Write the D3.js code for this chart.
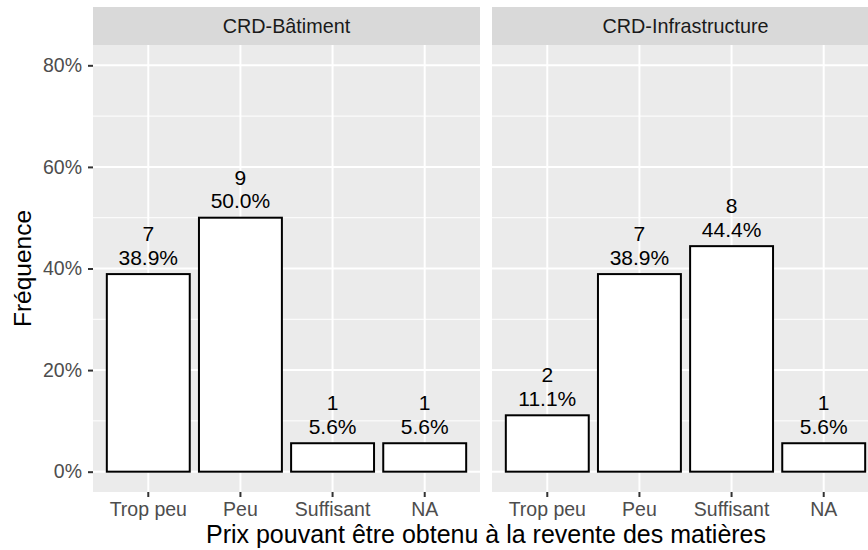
<!DOCTYPE html>
<html lang="fr">
<head>
    <meta charset="UTF-8">
    <title>Prix de revente</title>
    <style>
        body { margin: 0; background: #fff; }
        text { font-family: "Liberation Sans", Arial, sans-serif; }
    </style>
</head>
<body>
<div id="chart"></div>
<script src="https://cdn.jsdelivr.net/npm/d3@7"></script>
<script>
    const categories = ["Trop peu", "Peu", "Suffisant", "NA"];
    const panels = ["CRD-Bâtiment", "CRD-Infrastructure"];
    const counts = [
        [7, 9, 1, 1],
        [2, 7, 8, 1]
    ];
    const percents = [
        [0.389, 0.500, 0.056, 0.056],
        [0.111, 0.389, 0.444, 0.056]
    ];
    const yTicks = [0, 0.2, 0.4, 0.6, 0.8];
    const yMinor = [0.1, 0.3, 0.5, 0.7];

    const width = 868, height = 550;
    const panelW = 387, panelGap = 12;
    const panelLeft = [93, 93 + panelW + panelGap];
    const stripTop = 7, stripBottom = 45, panelBottom = 492;

    let svg = d3.select("#chart")
        .append("svg")
        .attr("width", width)
        .attr("height", height)
        .style("background-color", "#fff");

    let y = d3.scaleLinear()
        .domain([-0.04, 0.84])
        .range([panelBottom, stripBottom]);

    panels.forEach((name, p) => {
        let x = d3.scaleBand()
            .domain(categories)
            .range([panelLeft[p], panelLeft[p] + panelW])
            .paddingInner(0.1)
            .paddingOuter(0.15);
        const xc = c => x(c) + x.bandwidth() / 2;

        let g = svg.append("g");

        // panel background
        g.append("rect")
            .attr("x", panelLeft[p]).attr("y", stripBottom)
            .attr("width", panelW).attr("height", panelBottom - stripBottom)
            .attr("fill", "#ebebeb");

        // strip
        g.append("rect")
            .attr("x", panelLeft[p]).attr("y", stripTop)
            .attr("width", panelW).attr("height", stripBottom - stripTop)
            .attr("fill", "#d9d9d9");
        g.append("text")
            .attr("x", panelLeft[p] + panelW / 2)
            .attr("y", (stripTop + stripBottom) / 2)
            .attr("dy", "0.35em")
            .attr("text-anchor", "middle")
            .attr("font-size", 19.8)
            .attr("fill", "#1a1a1a")
            .text(name);

        // grid
        g.selectAll("line.minor")
            .data(yMinor)
            .join("line")
            .attr("x1", panelLeft[p]).attr("x2", panelLeft[p] + panelW)
            .attr("y1", d => y(d)).attr("y2", d => y(d))
            .attr("stroke", "#fff").attr("stroke-width", 1);
        g.selectAll("line.major")
            .data(yTicks)
            .join("line")
            .attr("x1", panelLeft[p]).attr("x2", panelLeft[p] + panelW)
            .attr("y1", d => y(d)).attr("y2", d => y(d))
            .attr("stroke", "#fff").attr("stroke-width", 2);
        g.selectAll("line.vmajor")
            .data(categories)
            .join("line")
            .attr("x1", xc).attr("x2", xc)
            .attr("y1", stripBottom).attr("y2", panelBottom)
            .attr("stroke", "#fff").attr("stroke-width", 2);

        // bars
        const rows = categories.map((c, i) => ({c, n: counts[p][i], v: percents[p][i]}));
        g.selectAll("rect.bar")
            .data(rows)
            .join("rect")
            .attr("x", d => x(d.c))
            .attr("y", d => y(d.v))
            .attr("width", x.bandwidth())
            .attr("height", d => y(0) - y(d.v))
            .attr("fill", "#fff")
            .attr("stroke", "#000")
            .attr("stroke-width", 2);

        // labels
        let lab = g.selectAll("text.lab")
            .data(rows)
            .join("text")
            .attr("text-anchor", "middle")
            .attr("font-size", 21)
            .attr("fill", "#000");
        lab.append("tspan")
            .attr("x", d => xc(d.c))
            .attr("y", d => y(d.v) - 33)
            .text(d => d.n);
        lab.append("tspan")
            .attr("x", d => xc(d.c))
            .attr("y", d => y(d.v) - 9.5)
            .text(d => d3.format(".1%")(d.v));

        // x axis
        let xa = g.append("g")
            .attr("transform", `translate(0,${panelBottom})`)
            .call(d3.axisBottom(x).tickSize(5).tickPadding(5));
        xa.select(".domain").remove();
        xa.selectAll(".tick line").attr("stroke", "#333").attr("stroke-width", 2);
        xa.selectAll(".tick text")
            .attr("font-size", 19.5)
            .attr("fill", "#4d4d4d");

        if (p === 0) {
            let ya = g.append("g")
                .attr("transform", `translate(${panelLeft[0]},0)`)
                .call(d3.axisLeft(y).tickValues(yTicks).tickFormat(d3.format(".0%")).tickSize(5).tickPadding(6));
            ya.select(".domain").remove();
            ya.selectAll(".tick line").attr("stroke", "#333").attr("stroke-width", 2);
            ya.selectAll(".tick text")
                .attr("font-size", 19.5)
                .attr("fill", "#4d4d4d");
        }
    });

    // axis titles
    svg.append("text")
        .attr("x", (panelLeft[0] + panelLeft[1] + panelW) / 2)
        .attr("y", 543)
        .attr("text-anchor", "middle")
        .attr("font-size", 25)
        .attr("fill", "#000")
        .text("Prix pouvant être obtenu à la revente des matières");

    svg.append("text")
        .attr("transform", `translate(31,${(stripBottom + panelBottom) / 2}) rotate(-90)`)
        .attr("text-anchor", "middle")
        .attr("font-size", 24.5)
        .attr("fill", "#000")
        .text("Fréquence");
</script>
</body>
</html>
